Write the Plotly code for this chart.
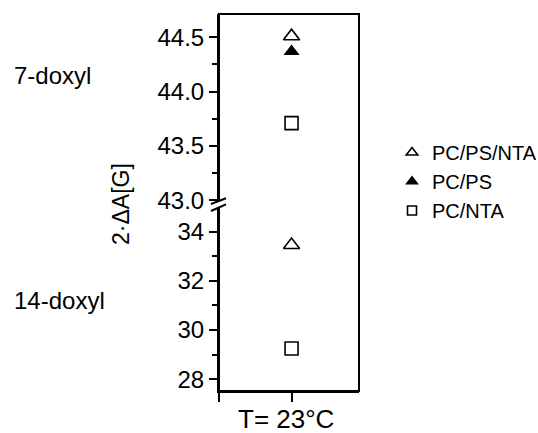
import plotly.graph_objects as go

# ---- data ----
categories = ["T= 23°C"]
series_names = ["PC/PS/NTA", "PC/PS", "PC/NTA"]
# 7-doxyl (upper segment) values
doxyl7_pcpsnta = [44.51]
doxyl7_pcps = [44.37]
doxyl7_pcnta = [43.71]
# 14-doxyl (lower segment) values
doxyl14_pcpsnta = [33.46]
doxyl14_pcnta = [29.25]
upper_ticks = [43.0, 43.5, 44.0, 44.5]
lower_ticks = [28, 30, 32, 34]
group_labels = ["7-doxyl", "14-doxyl"]
y_title = "2·ΔA[G]"

FONT = "Liberation Sans, Arial, sans-serif"
W, H = 538, 433
L, R, T, B = 219, 179, 14, 42
PW, PH = W - L - R, H - T - B

def px_x(px):
    return (px - L) / PW

def px_y(py):
    return (H - B - py) / PH

xpos = list(range(len(categories)))

fig = go.Figure()

open_tri = dict(symbol="triangle-up-open", size=14, color="black", line=dict(width=1.6, color="black"))
fill_tri = dict(symbol="triangle-up", size=14, color="black", line=dict(width=0))
open_sq = dict(symbol="square-open", size=13, color="black", line=dict(width=1.6, color="black"))

# upper segment
fig.add_trace(go.Scatter(x=xpos, y=doxyl7_pcpsnta, mode="markers", marker=open_tri,
                         xaxis="x", yaxis="y2", showlegend=False))
fig.add_trace(go.Scatter(x=xpos, y=doxyl7_pcps, mode="markers", marker=fill_tri,
                         xaxis="x", yaxis="y2", showlegend=False))
fig.add_trace(go.Scatter(x=xpos, y=doxyl7_pcnta, mode="markers", marker=open_sq,
                         xaxis="x", yaxis="y2", showlegend=False))
# lower segment
fig.add_trace(go.Scatter(x=xpos, y=doxyl14_pcpsnta, mode="markers", marker=open_tri,
                         xaxis="x", yaxis="y", showlegend=False))
fig.add_trace(go.Scatter(x=xpos, y=doxyl14_pcnta, mode="markers", marker=open_sq,
                         xaxis="x", yaxis="y", showlegend=False))

# legend entries
leg_markers = [
    dict(symbol="triangle-up-open", size=10, color="black", line=dict(width=1.6, color="black")),
    dict(symbol="triangle-up", size=12, color="black", line=dict(width=0)),
    dict(symbol="square-open", size=9, color="black", line=dict(width=1.6, color="black")),
]
for name, mk in zip(series_names, leg_markers):
    fig.add_trace(go.Scatter(x=[None], y=[None], mode="markers", marker=mk, name=name,
                             xaxis="x", yaxis="y", showlegend=True))

axis_common = dict(showgrid=False, zeroline=False, showline=True, linecolor="black", linewidth=2,
                   ticks="outside", ticklen=8, tickwidth=2, tickcolor="black", automargin=False,
                   tickfont=dict(family=FONT, size=24, color="black"))

fig.update_layout(
    width=W, height=H,
    margin=dict(l=L, r=R, t=T, b=B, pad=0, autoexpand=False),
    paper_bgcolor="white", plot_bgcolor="white",
    font=dict(family=FONT, color="black"),
    xaxis=dict(range=[-1, 0.93], tickvals=[-1] + xpos, ticktext=[""] * (len(xpos) + 1),
               showgrid=False, zeroline=False, showline=True, linecolor="black", linewidth=2,
               ticks="outside", ticklen=9, tickwidth=2, tickcolor="black", automargin=False,
               tickfont=dict(family=FONT, size=26, color="black"), anchor="y"),
    yaxis=dict(domain=[0, 0.5], range=[27.52, 35.19], tickvals=lower_ticks,
               minor=dict(tickvals=[29, 31, 33], ticklen=5, tickwidth=2, tickcolor="black", ticks="outside"),
               anchor="x", **axis_common),
    yaxis2=dict(domain=[0.5, 1], range=[42.98, 44.714], tickvals=upper_ticks, tickformat=".1f",
                minor=dict(tickvals=[43.25, 43.75, 44.25], ticklen=5, tickwidth=2, tickcolor="black", ticks="outside"),
                anchor="x", **axis_common),
    legend=dict(xref="container", yref="container", x=392 / W, y=1 - 133 / H,
                xanchor="left", yanchor="top", bgcolor="rgba(0,0,0,0)",
                font=dict(family=FONT, size=20, color="black"), itemwidth=30),
)

# frame
fig.add_shape(type="rect", xref="paper", yref="paper", x0=0, x1=1, y0=0, y1=1,
              line=dict(color="black", width=2), fillcolor="rgba(0,0,0,0)", layer="above")

# axis break mark (pixel-sized around left axis at the segment join)
fig.add_shape(type="path", xref="paper", yref="paper", xsizemode="pixel", ysizemode="pixel",
              xanchor=0, yanchor=0.5,
              path="M -8 -1.5 L 7 4.2 L 7 -1.8 L -8 -8.5 Z",
              fillcolor="white", line=dict(width=0), layer="above")
fig.add_shape(type="path", xref="paper", yref="paper", xsizemode="pixel", ysizemode="pixel",
              xanchor=0, yanchor=0.5, path="M -8 -1.5 L 7 4.2",
              line=dict(color="black", width=2), layer="above")
fig.add_shape(type="path", xref="paper", yref="paper", xsizemode="pixel", ysizemode="pixel",
              xanchor=0, yanchor=0.5, path="M -8 -8.5 L 7 -1.8",
              line=dict(color="black", width=2), layer="above")

# category label under the x tick
fig.add_annotation(text=categories[0], xref="paper", yref="paper", x=px_x(286), y=px_y(419),
                   xanchor="center", yanchor="middle", showarrow=False,
                   font=dict(family=FONT, size=26, color="black"))

# group labels
fig.add_annotation(text=group_labels[0], xref="paper", yref="paper", x=px_x(12), y=px_y(75),
                   xanchor="left", yanchor="middle", showarrow=False,
                   font=dict(family=FONT, size=24, color="black"))
fig.add_annotation(text=group_labels[1], xref="paper", yref="paper", x=px_x(12), y=px_y(300),
                   xanchor="left", yanchor="middle", showarrow=False,
                   font=dict(family=FONT, size=24, color="black"))
# y title
fig.add_annotation(text=y_title, xref="paper", yref="paper", x=px_x(121), y=px_y(204),
                   xanchor="center", yanchor="middle", textangle=-90, showarrow=False,
                   font=dict(family=FONT, size=23, color="black"))

fig.write_html("out.html")
